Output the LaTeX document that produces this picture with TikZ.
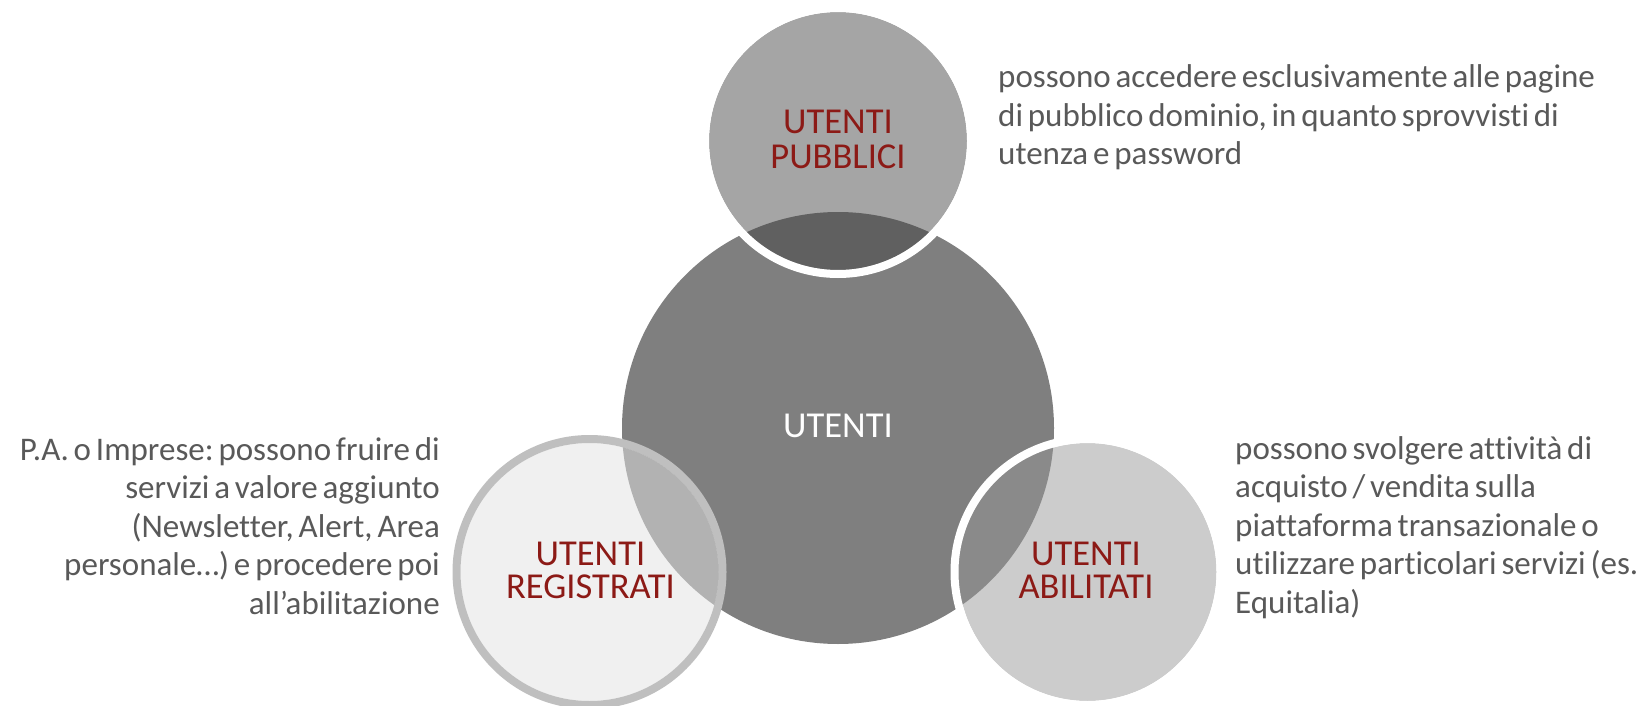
\documentclass[tikz,border=0pt]{standalone}
\usepackage{fontspec}
\setmainfont{Carlito}[Ligatures=NoCommon]
\newfontfamily\descfont{Carlito}[Ligatures=NoCommon,WordSpace=0.65]
\definecolor{cCentral}{HTML}{7F7F7F}
\definecolor{cPub}{HTML}{A5A5A5}
\definecolor{cPubOv}{HTML}{606060}
\definecolor{cReg}{HTML}{F0F0F0}
\definecolor{cRegBorder}{HTML}{BFBFBF}
\definecolor{cRegOv}{HTML}{B2B2B2}
\definecolor{cAbi}{HTML}{CCCCCC}
\definecolor{cAbiOv}{HTML}{8A8A8A}
\definecolor{cRed}{RGB}{140,26,22}
\definecolor{cText}{HTML}{595959}
\newcommand\txtsize{\descfont\fontsize{33}{38.5}\selectfont\frenchspacing}
\newcommand\lblsize{\fontsize{36.5}{34}\selectfont}
\tikzset{
  disc/.style={circle, inner sep=0pt, minimum size=258pt, draw=none},
  lbl/.style={text=cRed, align=center, font=\lblsize, inner sep=0pt, anchor=base},
  desc/.style={text=cText, inner sep=0pt, font=\txtsize},
}
\begin{document}
\begin{tikzpicture}[x=1pt,y=-1pt]
\useasboundingbox (0,0) rectangle (1639,706);
\fill[white] (0,0) rectangle (1639,706);
% central circle
\node[circle, inner sep=0pt, minimum size=432pt, fill=cCentral] (central) at (838,428) {};
% small discs
\node[disc, fill=cPub] (pub) at (838,141) {};
\node[disc, fill=cReg] (reg) at (589.5,572) {};
\node[disc, fill=cAbi] (abi) at (1087.5,572) {};
% overlaps
\begin{scope}
  \clip (838,141) circle (129pt);
  \fill[cPubOv] (838,428) circle (216pt);
\end{scope}
\begin{scope}
  \clip (589.5,572) circle (129pt);
  \fill[cRegOv] (838,428) circle (216pt);
\end{scope}
\begin{scope}
  \clip (1087.5,572) circle (129pt);
  \fill[cAbiOv] (838,428) circle (216pt);
\end{scope}
% borders
\draw[white, line width=8pt] (pub.center) circle (133pt);
\draw[cRegBorder, line width=8pt] (reg.center) circle (133pt);
\draw[white, line width=8pt] (abi.center) circle (133pt);
% labels
\node[lbl, text=white] (tcentral) at (838,437) {UTENTI};
\node[lbl] (tpub1) at (838,134) {UTENTI};
\node[lbl] (tpub2) at (838,168) {PUBBLICI};
\node[lbl] (treg1) at (590.5,565) {UTENTI};
\node[lbl] (treg2) at (590.5,598) {REGISTRATI};
\node[lbl] (tabi1) at (1086,565) {UTENTI};
\node[lbl] (tabi2) at (1086,598) {ABILITATI};
% descriptions
\node[desc, anchor=base west] (dpub) at (998,88) {\parbox[t]{640pt}{\txtsize\raggedright
possono accedere esclusivamente alle pagine\\
di pubblico dominio, in quanto sprovvisti di\\
utenza e password}};
\node[desc, anchor=base east] (dreg) at (440,460) {\parbox[t]{600pt}{\txtsize\raggedleft
P.A. o Imprese: possono fruire di\\
servizi a valore aggiunto\\
(Newsletter, Alert, Area\\
personale\dots) e procedere poi\\
all’abilitazione}};
\node[desc, anchor=base west] (dabi) at (1235,459) {\parbox[t]{600pt}{\txtsize\raggedright
possono svolgere attività di\\
acquisto / vendita sulla\\
piattaforma transazionale o\\
utilizzare particolari servizi (es.\\
Equitalia)}};
\end{tikzpicture}
\end{document}
